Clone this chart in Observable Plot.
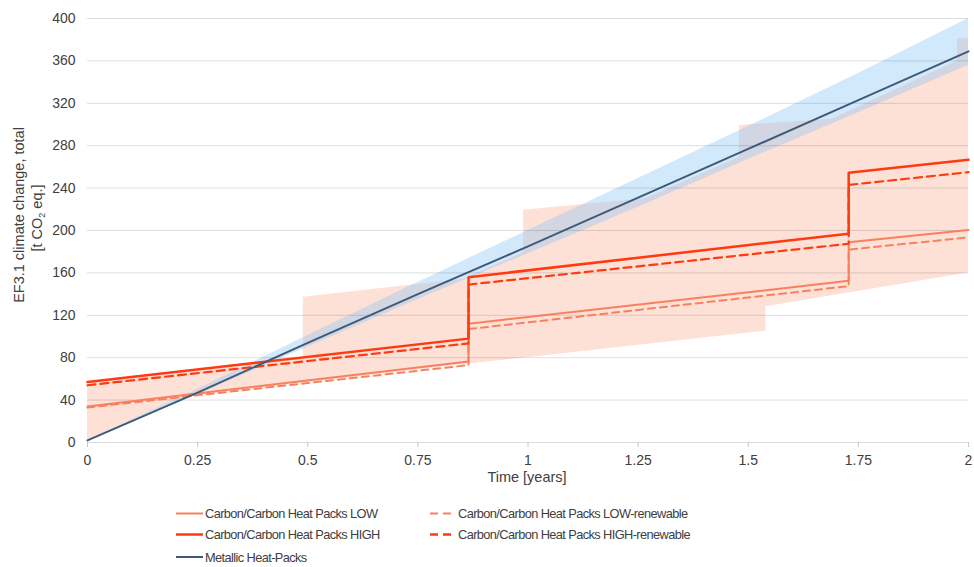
<!DOCTYPE html>
<html><head><meta charset="utf-8">
<script src="https://cdn.jsdelivr.net/npm/d3@7"></script>
<script src="https://cdn.jsdelivr.net/npm/@observablehq/plot@0.6"></script>
<style>
body{margin:0;background:#fff;font-family:"Liberation Sans",Arial,sans-serif;}
#wrap{position:relative;width:974px;height:567px;overflow:hidden;}
#legend{position:absolute;left:0;top:495px;}
</style></head><body><div id="wrap"></div>
<script>
// ---- data ----
const stepX = [0, 0.865, 0.865, 1.728, 1.728, 2];
const lowY = [34, 76.5, 112, 152.5, 189, 200.5];
const lowRenY = [33, 73, 107, 147.5, 182, 193.5];
const highY = [57, 98, 156, 197, 254.5, 266.7];
const highRenY = [54, 93.5, 149, 187.5, 243, 255];

const metX = [0, 0.25, 0.5, 0.75, 1, 1.25, 1.5, 1.75, 2];
const metY = [2, 47, 94, 140, 185, 231, 277, 323, 369];
const metUpper = [2, 50, 101, 151, 200, 249, 298, 348, 400];
const metLower = [2, 45, 90, 135, 178, 222, 267, 311, 356];

// carbon/carbon uncertainty envelope (upper and lower outline)
const envUpperX = [0, 0.49, 0.49, 0.854, 0.99, 0.99, 1.267, 1.48, 1.48, 1.69, 1.975, 1.975, 2.0];
const envUpperY = [57, 80, 137, 154, 179, 219, 230, 269, 299, 305, 360, 381, 381];
const envLowerX = [0, 0.22, 0.49, 0.865, 1.54, 1.54, 2.0, 2.0, 2.0, 2.0, 2.0, 2.0, 2.0];
const envLowerY = [2, 43, 56, 74, 105, 128, 160, 160, 160, 160, 160, 160, 160];

const yTicks = [0, 40, 80, 120, 160, 200, 240, 280, 320, 360, 400];
const xTicks = [0, 0.25, 0.5, 0.75, 1, 1.25, 1.5, 1.75, 2];
const xTickLabels = ["0", "0.25", "0.5", "0.75", "1", "1.25", "1.5", "1.75", "2"];

const seriesNames = [
  "Carbon/Carbon Heat Packs LOW",
  "Carbon/Carbon Heat Packs LOW-renewable",
  "Carbon/Carbon Heat Packs HIGH",
  "Carbon/Carbon Heat Packs HIGH-renewable",
  "Metallic Heat-Packs"
];
const colors = {low: "#f9805f", high: "#ff3a10", met: "#3f5a78"};

// ---- tables ----
const toRows = (xs, ys) => xs.map((x, i) => ({x, y: ys[i]}));
const envRows = envUpperX.map((x, i) => ({xu: x, yu: envUpperY[i], xl: envLowerX[i], yl: envLowerY[i]}));
const metBand = metX.map((x, i) => ({x, lo: metLower[i], hi: metUpper[i]}));

const chart = Plot.plot({
  width: 974, height: 495,
  marginLeft: 87, marginRight: 6, marginTop: 18, marginBottom: 53,
  style: {fontFamily: "Liberation Sans, Arial, sans-serif", fontSize: "14px", color: "#404040", background: "#fff"},
  x: {domain: [0, 2]},
  y: {domain: [0, 400]},
  marks: [
    Plot.area(envRows, {x1: "xl", y1: "yl", x2: "xu", y2: "yu", fill: "#fde0d6"}),
    Plot.areaY(metBand, {x: "x", y1: "lo", y2: "hi", fill: "rgb(142,200,245)", fillOpacity: 0.4}),
    Plot.gridY({ticks: yTicks, stroke: "#000", strokeOpacity: 0.13, strokeWidth: 1}),
    Plot.axisY({ticks: yTicks, tickSize: 0, tickPadding: 12, label: null, fontSize: 14, fill: "#404040"}),
    Plot.axisX({ticks: xTicks, tickSize: 5, tickPadding: 8, stroke: "#c8c8c8", label: null, fontSize: 14, fill: "#404040",
      tickFormat: (d) => xTickLabels[xTicks.indexOf(d)]}),
    Plot.line(toRows(stepX, lowRenY), {x: "x", y: "y", stroke: colors.low, strokeWidth: 2, strokeDasharray: "7,5"}),
    Plot.line(toRows(stepX, lowY), {x: "x", y: "y", stroke: colors.low, strokeWidth: 2}),
    Plot.line(toRows(stepX, highRenY), {x: "x", y: "y", stroke: colors.high, strokeWidth: 2.2, strokeDasharray: "8,5"}),
    Plot.line(toRows(stepX, highY), {x: "x", y: "y", stroke: colors.high, strokeWidth: 2.5}),
    Plot.line(toRows(metX, metY), {x: "x", y: "y", stroke: colors.met, strokeWidth: 2})
  ]
});
const wrap = document.getElementById("wrap");
wrap.appendChild(chart);

const svg = d3.select(chart);
svg.append("text")
  .attr("transform", "translate(19,215) rotate(-90)")
  .attr("text-anchor", "middle").attr("dominant-baseline", "central")
  .attr("font-size", 14.5).attr("fill", "#404040")
  .text("EF3.1 climate change, total");
const t2 = svg.append("text")
  .attr("transform", "translate(37,218) rotate(-90)")
  .attr("text-anchor", "middle").attr("dominant-baseline", "central")
  .attr("font-size", 14.5).attr("fill", "#404040");
t2.append("tspan").text("[t CO");
t2.append("tspan").attr("font-size", 9).attr("baseline-shift", "sub").text("2");
t2.append("tspan").text(" eq.]");
svg.append("text")
  .attr("x", 527).attr("y", 477)
  .attr("text-anchor", "middle").attr("dominant-baseline", "central")
  .attr("font-size", 14.5).attr("fill", "#404040")
  .text("Time [years]");

// ---- legend ----
const leg = d3.select(wrap).append("svg").attr("id", "legend").attr("width", 974).attr("height", 72)
  .style("font-family", "Liberation Sans, Arial, sans-serif");
const items = [
  {name: seriesNames[0], color: colors.low, dash: null, col: 0, row: 0, w: 2},
  {name: seriesNames[2], color: colors.high, dash: null, col: 0, row: 1, w: 2.5},
  {name: seriesNames[4], color: colors.met, dash: null, col: 0, row: 2, w: 2},
  {name: seriesNames[1], color: colors.low, dash: "8,5", col: 1, row: 0, w: 2},
  {name: seriesNames[3], color: colors.high, dash: "8,5", col: 1, row: 1, w: 2.5}
];
const rowY = [18.5, 39.5, 62];
const colX = [[176, 203, 205], [430, 451, 458]];
items.forEach(it => {
  const [x0, x1, tx] = colX[it.col];
  const y = rowY[it.row];
  leg.append("line").attr("x1", x0).attr("x2", x1).attr("y1", y).attr("y2", y)
    .attr("stroke", it.color).attr("stroke-width", it.w)
    .attr("stroke-dasharray", it.dash);
  leg.append("text").attr("x", tx).attr("y", y).attr("dominant-baseline", "central")
    .attr("font-size", 12.8).attr("letter-spacing", "-0.6px").attr("fill", "#404040").text(it.name);
});
</script>
</body></html>
